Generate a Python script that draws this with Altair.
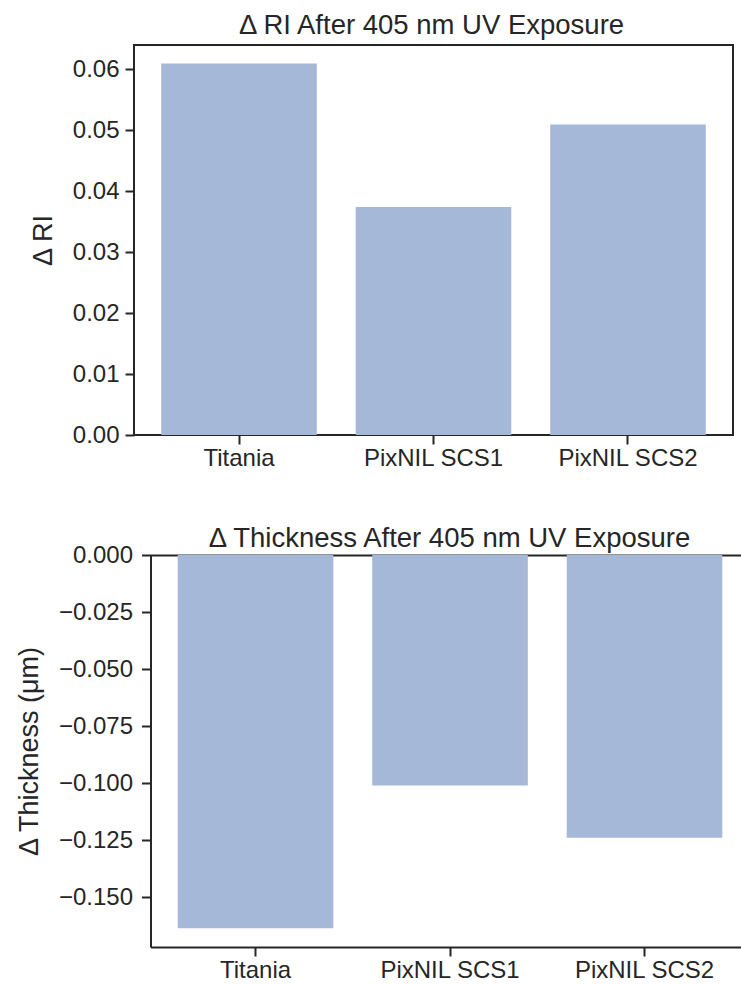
import altair as alt
import pandas as pd

samples = ["Titania", "PixNIL SCS1", "PixNIL SCS2"]
delta_ri = [0.0609, 0.0374, 0.0509]
delta_thickness = [-0.1635, -0.1010, -0.1238]

ri_ticks = [0.0, 0.01, 0.02, 0.03, 0.04, 0.05, 0.06]
th_ticks = [0.0, -0.025, -0.05, -0.075, -0.1, -0.125, -0.15]

FONT = "Liberation Sans"
INK = "#262626"
BAR = "#a5b8d7"

df_ri = pd.DataFrame({"sample": samples, "value": delta_ri})
df_th = pd.DataFrame({"sample": samples, "value": delta_thickness})

SHIFT = 16.5          # left spine of lower panel sits further right
W = 599
WB = 607              # lower panel runs to the page edge

top = alt.Chart(df_ri).mark_bar(color=BAR).encode(
    x=alt.X("sample:N", sort=samples,
            scale=alt.Scale(paddingInner=0.2, paddingOuter=0.14),
            axis=alt.Axis(title=None, labelAngle=0, labelPadding=2, domain=False)),
    y=alt.Y("value:Q", scale=alt.Scale(domain=[0, 0.06394], nice=False, zero=True),
            axis=alt.Axis(title="Δ RI", values=ri_ticks, format=".2f", domain=False,
                          labelPadding=6, titlePadding=15)),
).properties(
    width=W, height=390,
    title=alt.TitleParams("Δ RI After 405 nm UV Exposure", offset=6, dx=-2),
    view=alt.ViewBackground(stroke=INK, strokeWidth=2),
)

xs_bottom = alt.Scale(paddingInner=0.2, paddingOuter=0.118, align=0.593,
                      range=[SHIFT, WB])
ys_bottom = alt.Scale(domain=[-0.1717, 0], nice=False, zero=True)

bars_th = alt.Chart(df_th).mark_bar(color=BAR).encode(
    x=alt.X("sample:N", sort=samples, scale=xs_bottom,
            axis=alt.Axis(title=None, labelAngle=0, labelPadding=2, domain=True)),
    y=alt.Y("value:Q", scale=ys_bottom,
            axis=alt.Axis(title="Δ Thickness (μm)", values=th_ticks, format=".3f",
                          domain=True, offset=-SHIFT, labelPadding=9, titlePadding=15)),
)
top_spine = alt.Chart(df_th).mark_bar(opacity=0).encode(
    x=alt.X("sample:N", sort=samples, scale=xs_bottom,
            axis=alt.Axis(title=None, orient="top", labels=False, ticks=False, domain=True)),
    y=alt.Y("value:Q", scale=ys_bottom),
)
bottom = alt.layer(bars_th, top_spine).resolve_axis(x="independent").properties(
    width=WB, height=392,
    title=alt.TitleParams("Δ Thickness After 405 nm UV Exposure", offset=-9, dx=12),
    view=alt.ViewBackground(strokeOpacity=0),
)

chart = alt.concat(top, bottom, columns=1, spacing=53).properties(
    padding={"left": 15, "top": 10, "right": 0, "bottom": 0},
    background="white",
).configure_axis(
    labelFont=FONT, labelFontSize=24, labelColor=INK,
    titleFont=FONT, titleFontSize=27, titleFontWeight="normal", titleColor=INK,
    tickSize=9, tickWidth=2, tickColor=INK,
    domainColor=INK, domainWidth=2,
    grid=False,
).configure_title(
    font=FONT, fontSize=27.5, fontWeight="normal", color=INK,
    anchor="middle", baseline="alphabetic",
)

chart.save("out.html", embed_options={"renderer": "svg", "actions": False})
